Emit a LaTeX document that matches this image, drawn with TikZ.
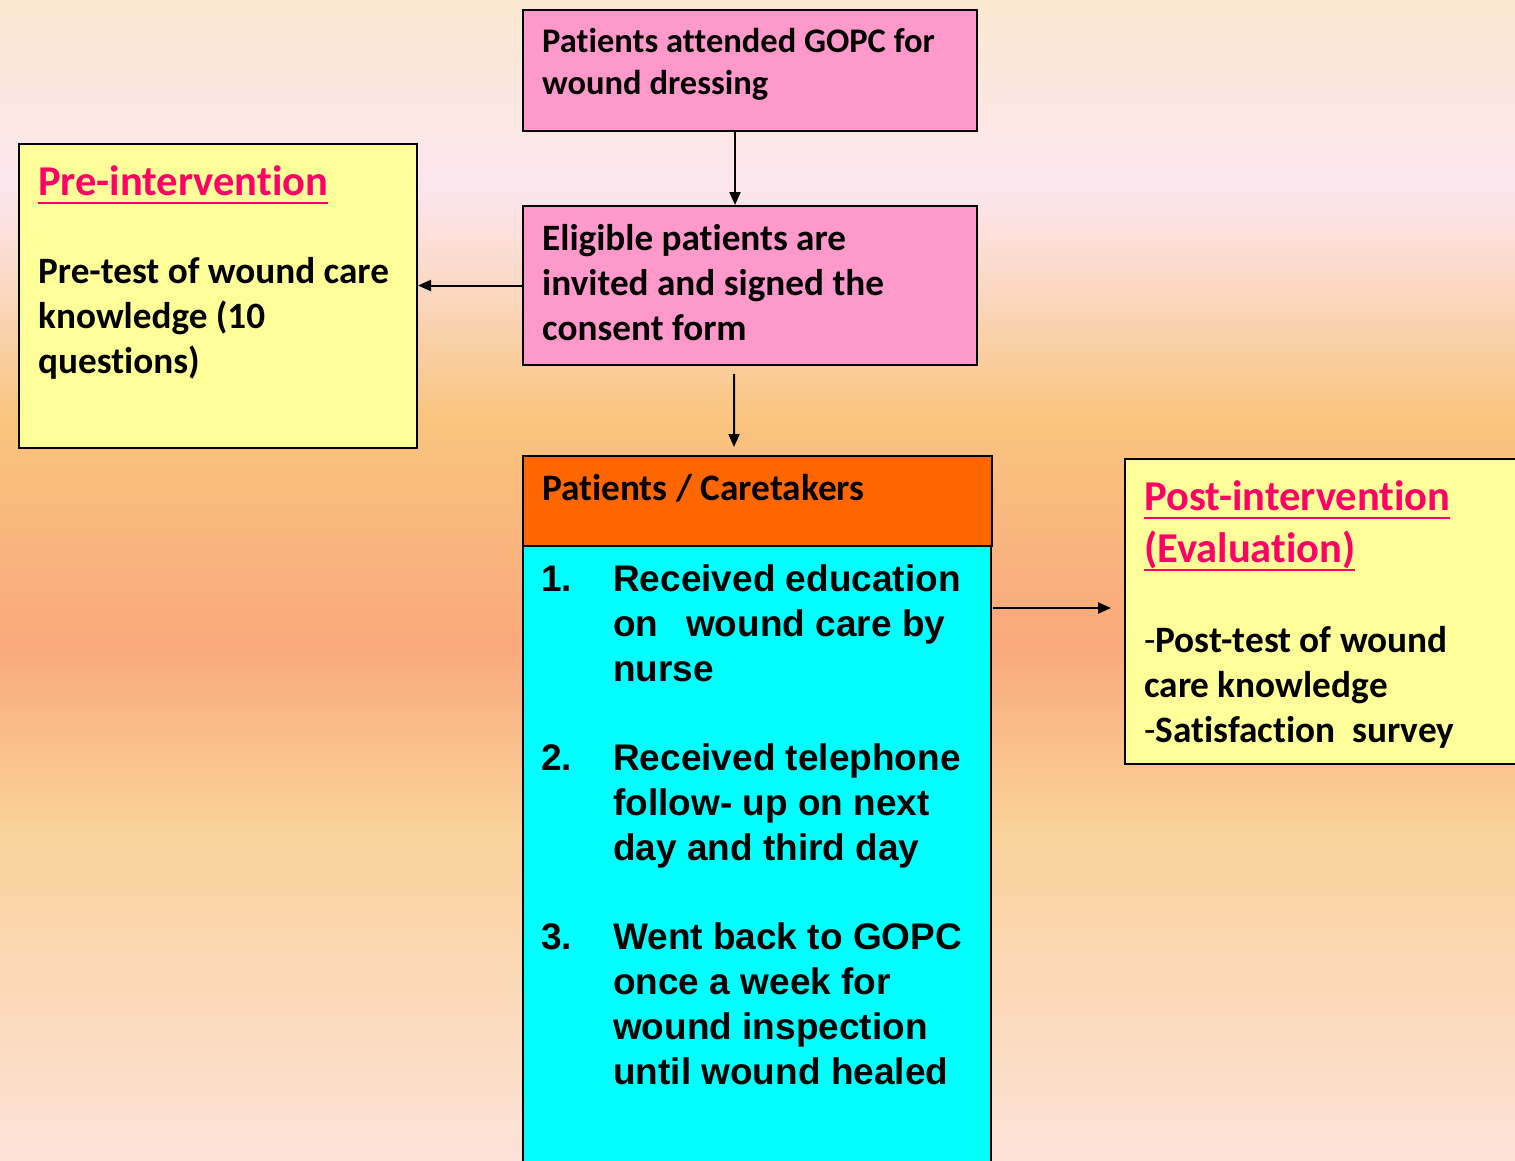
\documentclass[tikz,border=0pt]{standalone}
\usepackage{fontspec}
\setmainfont{Carlito}[Ligatures=NoCommon]
\newfontfamily\arialfont{Liberation Sans}
\usetikzlibrary{arrows.meta,positioning}

\definecolor{pinkfill}{HTML}{FF99CC}
\definecolor{yellowfill}{HTML}{FFFF99}
\definecolor{orangefill}{HTML}{FF6600}
\definecolor{cyanfill}{HTML}{00FFFF}
\definecolor{headpink}{HTML}{FF0066}
% background gradient stops
\definecolor{bgA}{HTML}{FBE8D0}
\definecolor{bgB}{HTML}{FCE6EF}
\definecolor{bgC}{HTML}{FBD6BC}
\definecolor{bgD}{HTML}{F9C47E}
\definecolor{bgE}{HTML}{F9A97C}
\definecolor{bgF}{HTML}{FAD198}
\definecolor{bgG}{HTML}{FCE2D8}

% underlined heading
\newsavebox{\ulbox}
\newcommand{\headul}[1]{\sbox{\ulbox}{#1}\rlap{\rule[-9bp]{\wd\ulbox}{2bp}}\usebox{\ulbox}}

\tikzset{
  box/.style={draw=black, line width=2bp, anchor=north west, inner sep=0pt},
  txt/.style={anchor=north west, inner sep=0pt, align=left},
  arr/.style={line width=2bp, -{Triangle[length=13bp,width=11bp]}},
  head/.style={txt, text=headpink, font=\bfseries\fontsize{42.5bp}{52bp}\selectfont},
}

\begin{document}
\begin{tikzpicture}[x=1bp,y=-1bp]
\useasboundingbox (0,0) rectangle (1515,1160);

% background
\foreach \ya/\yb/\ca/\cb in {0/185/bgA/bgB, 185/300/bgB/bgC, 300/420/bgC/bgD,
    420/645/bgD/bgE, 645/823/bgE/bgF, 823/1160/bgF/bgG}
  \shade[top color=\ca, bottom color=\cb] (0,\ya) rectangle (1515,\yb+1);

% boxes
\node[box, fill=pinkfill, minimum width=454bp, minimum height=121bp] (attend) at (522,9) {};
\node[box, fill=pinkfill, minimum width=454bp, minimum height=159bp] (consent) at (522,205) {};
\node[box, fill=yellowfill, minimum width=398bp, minimum height=304bp] (pre) at (18,143) {};
\node[box, fill=orangefill, minimum width=469bp, minimum height=90bp] (patients) at (522,455) {};
\node[box, fill=cyanfill, minimum width=468bp, minimum height=640bp] (actions) at (522,545) {};
\node[box, fill=yellowfill, minimum width=420bp, minimum height=305bp] (post) at (1124,458) {};

% texts
\node[txt, font=\bfseries\fontsize{34.5bp}{42bp}\selectfont] (attendtext)
  at ([shift={(20,19)}]attend.north west) {Patients attended GOPC for\\wound dressing};
\node[txt, font=\bfseries\fontsize{37.2bp}{45bp}\selectfont] (consenttext)
  at ([shift={(20,19)}]consent.north west) {Eligible patients are\\invited and signed the\\consent form};
\node[head] (prehead) at ([shift={(20,22)}]pre.north west) {\headul{Pre-intervention}};
\node[txt, font=\bfseries\fontsize{37.2bp}{45bp}\selectfont] (pretext)
  at ([shift={(20,114)}]pre.north west) {Pre-test of wound care\\knowledge (10\\questions)};
\node[txt, font=\bfseries\fontsize{37.3bp}{45bp}\selectfont] (patientstext)
  at ([shift={(20,19)}]patients.north west) {Patients / Caretakers};
\node[txt, font=\arialfont\bfseries\fontsize{37bp}{44.8bp}\selectfont] (actionstext)
  at ([shift={(19,19.5)}]actions.north west) {%
  \makebox[72bp][l]{1.}Received education\\
  \hspace*{72bp}on\hspace*{0.75em}wound care by\\
  \hspace*{72bp}nurse\\[44.8bp]
  \makebox[72bp][l]{2.}Received telephone\\
  \hspace*{72bp}follow- up on next\\
  \hspace*{72bp}day and third day\\[44.8bp]
  \makebox[72bp][l]{3.}Went back to GOPC\\
  \hspace*{72bp}once a week for\\
  \hspace*{72bp}wound inspection\\
  \hspace*{72bp}until wound healed};
\node[head] (posthead) at ([shift={(20,22)}]post.north west)
  {\headul{Post-intervention}\\\headul{(Evaluation)}};
\node[txt, font=\bfseries\fontsize{37.3bp}{45bp}\selectfont] (posttext)
  at ([shift={(20,168)}]post.north west)
  {{\mdseries -}Post-test of wound\\care knowledge\\{\mdseries -}Satisfaction\ \ survey};

% connectors
\draw[arr] ([xshift=-15bp]attend.south) -- ([xshift=-15bp]consent.north);
\draw[arr] (consent.west) -- (consent.west -| pre.east);
\draw[arr] ([shift={(-16,8)}]consent.south) -- ([shift={(-23.5,-8)}]patients.north);
\draw[arr, shorten >=13bp] ([yshift=-61bp]patients.south east) -- ([yshift=-61bp]patients.south east -| post.west);
\end{tikzpicture}
\end{document}
